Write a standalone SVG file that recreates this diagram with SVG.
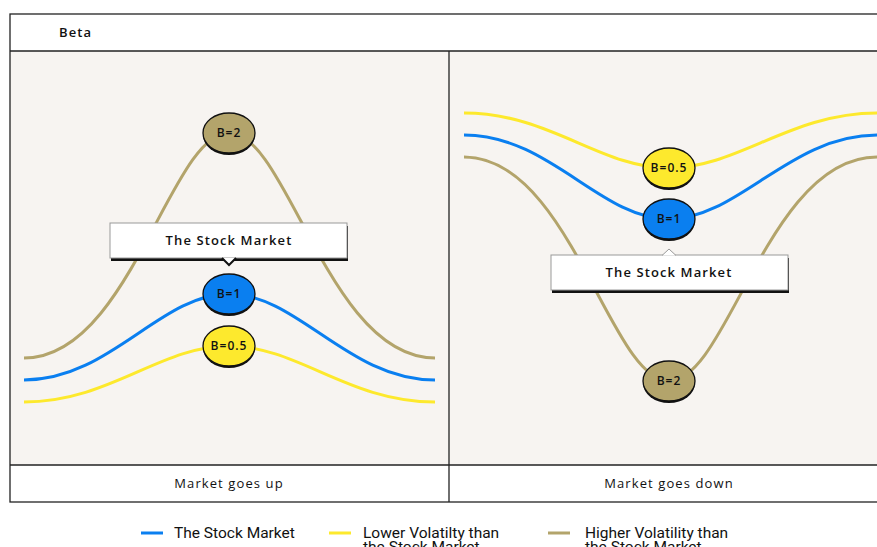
<svg xmlns="http://www.w3.org/2000/svg" width="877" height="547" viewBox="0 0 877 547">
<style>
.frame{fill:none;stroke:#222;stroke-width:1.3}
.panel{fill:#f7f4f1}
.lbl{font-family:"Open Sans","DejaVu Sans",sans-serif;font-size:13px;font-weight:500;letter-spacing:1.1px;fill:#111}
.bold{font-weight:600}
.node{font-family:"Open Sans","DejaVu Sans",sans-serif;font-size:12px;font-weight:600;letter-spacing:1px;fill:#111;text-anchor:middle}
.leg{font-family:Roboto,"Liberation Sans",sans-serif;font-size:15.5px;fill:#111}
.c{fill:none;stroke-width:3}
.gold{stroke:#b3a46b}.blue{stroke:#0a7ff0}.yel{stroke:#fde92d}
.sh{fill:#111}
.el{stroke:#111;stroke-width:1.3}
</style>
<rect x="0" y="0" width="877" height="547" fill="#fff"/>
<rect class="panel" x="10" y="51" width="870" height="414"/>
<g id="frame">
<rect class="frame" x="10" y="14" width="880" height="488"/>
<line class="frame" x1="10" y1="51" x2="877" y2="51"/>
<line class="frame" x1="10" y1="465" x2="877" y2="465"/>
<line class="frame" x1="449" y1="51" x2="449" y2="502"/>
<text class="lbl bold" x="59" y="37" font-size="12.5">Beta</text>
<text class="lbl" x="229" y="488" text-anchor="middle">Market goes up</text>
<text class="lbl" x="669" y="488" text-anchor="middle">Market goes down</text>
</g>
<g id="connectors">
<path class="c gold" d="M24,358 C130,358 170,133 229,133 C288,133 328,358 435,358"/>
<path class="c blue" d="M24,380 C110,380 160,294 229,294 C298,294 348,380 435,380"/>
<path class="c yel" d="M24,402 C110,402 160,346 229,346 C298,346 348,402 435,402"/>
<path class="c yel" d="M464,113 C550,113 600,168 669,168 C738,168 790,113 877,113"/>
<path class="c blue" d="M464,135 C550,135 600,219 669,219 C738,219 790,135 877,135"/>
<path class="c gold" d="M464,157 C570,157 610,381 669,381 C728,381 768,157 877,157"/>
</g>
<g id="callout-up">
<rect class="sh" x="111" y="226" width="237" height="35"/>
<rect x="110" y="223" width="237" height="35" fill="#fff" stroke="#999" stroke-width="1"/>
<path d="M222,258 L229,265 L236,258" fill="#fff" stroke="#111" stroke-width="2"/>
<text class="lbl bold" x="229" y="245" text-anchor="middle">The Stock Market</text>
</g>
<g id="callout-down">
<rect class="sh" x="552" y="258" width="237" height="35"/>
<rect x="551" y="255" width="237" height="35" fill="#fff" stroke="#999" stroke-width="1"/>
<path d="M662,255.5 L669,249 L676,255.5" fill="#fff" stroke="#999" stroke-width="1"/>
<text class="lbl bold" x="669" y="277" text-anchor="middle">The Stock Market</text>
</g>
<g id="node-up-b2">
<ellipse class="sh" cx="229" cy="135" rx="26" ry="20"/>
<ellipse class="el" cx="229" cy="133" rx="26" ry="20" fill="#b3a46b"/>
<text class="node" x="229" y="137">B=2</text>
</g>
<g id="node-up-b1">
<ellipse class="sh" cx="229" cy="296" rx="26" ry="20"/>
<ellipse class="el" cx="229" cy="294" rx="26" ry="20" fill="#0a7ff0"/>
<text class="node" x="229" y="298">B=1</text>
</g>
<g id="node-up-b05">
<ellipse class="sh" cx="229" cy="348" rx="26" ry="20"/>
<ellipse class="el" cx="229" cy="346" rx="26" ry="20" fill="#fde92d"/>
<text class="node" x="229" y="350">B=0.5</text>
</g>
<g id="node-down-b05">
<ellipse class="sh" cx="669" cy="170" rx="26" ry="20"/>
<ellipse class="el" cx="669" cy="168" rx="26" ry="20" fill="#fde92d"/>
<text class="node" x="669" y="172">B=0.5</text>
</g>
<g id="node-down-b1">
<ellipse class="sh" cx="669" cy="221" rx="26" ry="20"/>
<ellipse class="el" cx="669" cy="219" rx="26" ry="20" fill="#0a7ff0"/>
<text class="node" x="669" y="223">B=1</text>
</g>
<g id="node-down-b2">
<ellipse class="sh" cx="669" cy="383" rx="26" ry="20"/>
<ellipse class="el" cx="669" cy="381" rx="26" ry="20" fill="#b3a46b"/>
<text class="node" x="669" y="385">B=2</text>
</g>
<g id="legend">
<line x1="141" y1="533" x2="163" y2="533" stroke="#0a7ff0" stroke-width="3"/>
<text class="leg" x="174" y="538">The Stock Market</text>
<line x1="329" y1="533" x2="351" y2="533" stroke="#fde92d" stroke-width="3"/>
<text class="leg" x="363" y="538">Lower Volatilty than</text>
<text class="leg" x="363" y="552">the Stock Market</text>
<line x1="548" y1="533" x2="570" y2="533" stroke="#b3a46b" stroke-width="3"/>
<text class="leg" x="585" y="538">Higher Volatility than</text>
<text class="leg" x="585" y="552">the Stock Market</text>
</g>
</svg>
